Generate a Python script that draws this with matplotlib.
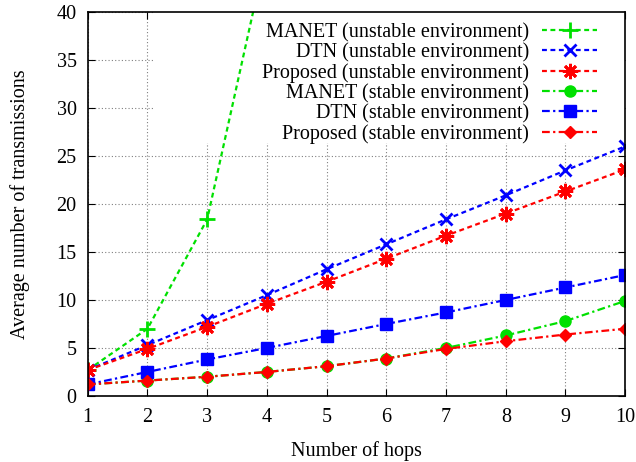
import matplotlib
matplotlib.use("Agg")
import matplotlib.pyplot as plt
from matplotlib.patches import Rectangle

hops = [1, 2, 3, 4, 5, 6, 7, 8, 9, 10]
manet_unstable = [2.7, 7.0, 18.4, 46.5]
dtn_unstable = [2.7, 5.3, 7.9, 10.5, 13.2, 15.8, 18.4, 20.9, 23.5, 26.0]
prop_unstable = [2.7, 4.9, 7.2, 9.6, 11.9, 14.3, 16.7, 19.0, 21.3, 23.6]
manet_stable = [1.2, 1.6, 2.0, 2.5, 3.1, 3.9, 5.0, 6.3, 7.8, 9.9]
dtn_stable = [1.2, 2.5, 3.8, 5.0, 6.25, 7.5, 8.7, 10.0, 11.3, 12.6]
prop_stable = [1.2, 1.6, 2.0, 2.5, 3.1, 3.9, 4.9, 5.7, 6.4, 7.0]

labels = ["MANET (unstable environment)", "DTN (unstable environment)",
          "Proposed (unstable environment)", "MANET (stable environment)",
          "DTN (stable environment)", "Proposed (stable environment)"]

plt.rcParams['font.family'] = ['Liberation Serif', 'DejaVu Serif']
fs = 14.5

fig = plt.figure(figsize=(6.36, 4.62), dpi=100)
ax = fig.add_axes([0.138, 0.143, 0.845, 0.831])

green = '#00e000'
blue = '#0000ff'
red = '#ff0000'
dash = (0, (2.2, 1.6))
dashdot = (0, (3.5, 1.5, 1.0, 1.5))
lw = 1.6

ax.plot(hops[:len(manet_unstable)], manet_unstable, color=green, ls=dash, lw=lw,
        marker='+', ms=11, mew=2, label=labels[0])
ax.plot(hops, dtn_unstable, color=blue, ls=dash, lw=lw,
        marker='x', ms=9, mew=2, label=labels[1])
ax.plot(hops, prop_unstable, color=red, ls=dash, lw=lw,
        marker=(8, 2, 0), ms=11, mew=2, label=labels[2])
ax.plot(hops, manet_stable, color=green, ls=dashdot, lw=lw,
        marker='o', ms=8, label=labels[3])
ax.plot(hops, dtn_stable, color=blue, ls=dashdot, lw=lw,
        marker='s', ms=9, label=labels[4])
ax.plot(hops, prop_stable, color=red, ls=dashdot, lw=lw,
        marker='D', ms=6, label=labels[5])

ax.set_xlim(1, 10)
ax.set_ylim(0, 40)
ax.set_xticks(hops)
ax.set_yticks(range(0, 41, 5))
ax.tick_params(direction='in', top=True, right=True, labelsize=fs, length=5)
ax.tick_params(axis='x', pad=9)
ax.tick_params(axis='y', pad=8)
ax.grid(True, color='#808080', ls=(0, (1, 2)), lw=0.8)
ax.set_axisbelow(True)
for s in ax.spines.values():
    s.set_linewidth(1.2)

# opaque key area (hides grid lines behind the key)
ax.add_patch(Rectangle((0.121, 0.659), 0.879, 0.341, transform=ax.transAxes,
                       facecolor='white', edgecolor='none', zorder=1))

ax.set_xlabel("Number of hops", fontsize=fs, labelpad=10)
ax.set_ylabel("Average number of transmissions", fontsize=fs, labelpad=19)

leg = ax.legend(loc='upper right', bbox_to_anchor=(0.947, 0.972),
                markerfirst=False, frameon=False, fontsize=fs,
                handlelength=2.7, labelspacing=0.05, borderaxespad=0.0,
                handletextpad=0.65, borderpad=0.0)
for t in leg.get_texts():
    t.set_ha('right')

fig.savefig("out.png", dpi=100)
